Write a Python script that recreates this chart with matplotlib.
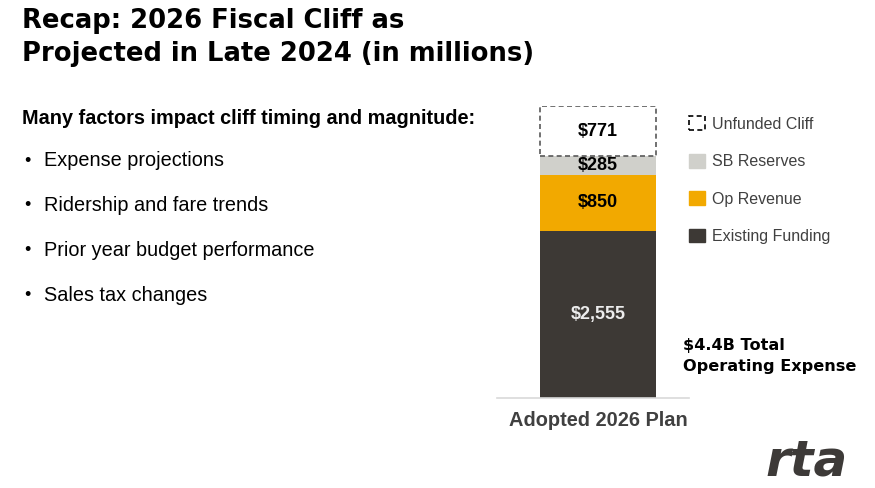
import matplotlib
matplotlib.use("Agg")
import matplotlib.pyplot as plt
import matplotlib.patches as mpatches

# ------------------------------------------------------------------
# Data (in millions)
# ------------------------------------------------------------------
category = "Adopted 2026 Plan"
segments = ["Existing Funding", "Op Revenue", "SB Reserves", "Unfunded Cliff"]
values = [2555, 850, 285, 771]
value_labels = ["$2,555", "$850", "$285", "$771"]
bullets = ["Expense projections", "Ridership and fare trends",
           "Prior year budget performance", "Sales tax changes"]

colors = ["#3d3935", "#f2a900", "#d0d0cb", "white"]
label_colors = ["#ececec", "black", "black", "black"]

plt.rcParams["font.family"] = ["Liberation Sans", "DejaVu Sans"]

fig = plt.figure(figsize=(8.75, 4.88), dpi=100)

# ------------------------------------------------------------------
# Stacked bar
# ------------------------------------------------------------------
ax = fig.add_axes([497 / 875, 90 / 488, 192 / 875, 292 / 488])
bottom = 0
for seg, val, col, lab, lcol in zip(segments, values, colors, value_labels, label_colors):
    if seg == "Unfunded Cliff":
        ax.bar(0, val, width=0.6, bottom=bottom, color=col, edgecolor="#595959",
               linestyle=(0, (3, 2)), linewidth=1.2, zorder=2)
    else:
        ax.bar(0, val, width=0.6, bottom=bottom, color=col, zorder=2)
    ax.text(0, bottom + val / 2, lab, ha="center", va="center", fontsize=13,
            fontweight="bold", color=lcol, zorder=3)
    bottom += val

ax.set_xlim(-0.522, 0.471)
ax.set_ylim(0, sum(values))
for s in ["top", "left", "right"]:
    ax.spines[s].set_visible(False)
ax.spines["bottom"].set_color("#d9d9d9")
ax.spines["bottom"].set_linewidth(1.2)
ax.set_yticks([])
ax.set_xticks([0])
ax.set_xticklabels([category], fontsize=14.4, fontweight="bold", color="#404040")
ax.tick_params(axis="x", length=0, pad=9)
ax.patch.set_alpha(0)

# ------------------------------------------------------------------
# Legend (top segment first)
# ------------------------------------------------------------------
handles = []
for seg, col in zip(segments[::-1], colors[::-1]):
    if seg == "Unfunded Cliff":
        handles.append(mpatches.Patch(facecolor="white", edgecolor="black",
                                      linestyle=(0, (3, 2)), linewidth=1.2, label=seg))
    else:
        handles.append(mpatches.Patch(facecolor=col, edgecolor=col, label=seg))
fig.legend(handles=handles, loc="upper left", bbox_to_anchor=(683 / 875, 1 - 110 / 488),
           frameon=False, fontsize=11.5, handlelength=0.95, handleheight=0.95,
           handletextpad=0.45, labelspacing=1.38, labelcolor="#404040", borderaxespad=0)

# ------------------------------------------------------------------
# Text
# ------------------------------------------------------------------
title_font = ["DejaVu Sans"]
fig.text(22 / 875, 1 - 21 / 488, "Recap: 2026 Fiscal Cliff as", fontsize=18.6,
         fontweight="bold", family=title_font, va="center", ha="left")
fig.text(22 / 875, 1 - 54 / 488, "Projected in Late 2024 (in millions)", fontsize=18.6,
         fontweight="bold", family=title_font, va="center", ha="left")

fig.text(22 / 875, 1 - 118 / 488, "Many factors impact cliff timing and magnitude:",
         fontsize=14.3, fontweight="bold", va="center", ha="left")
for i, b in enumerate(bullets):
    y = 1 - (161 + i * 44.7) / 488
    fig.text(24 / 875, y, "\u2022", fontsize=13, va="center", ha="left")
    fig.text(44 / 875, y, b, fontsize=14.3, va="center", ha="left")

fig.text(683 / 875, 1 - 356 / 488, "$4.4B Total\nOperating Expense", fontsize=11.6,
         fontweight="bold", family=title_font, va="center", ha="left", linespacing=1.45)

fig.text(807 / 875, 1 - 462 / 488, "rta", fontsize=36, fontweight="bold", style="italic",
         family=title_font, color="#3d3a38", va="center", ha="center")

fig.savefig("out.png", dpi=100)
